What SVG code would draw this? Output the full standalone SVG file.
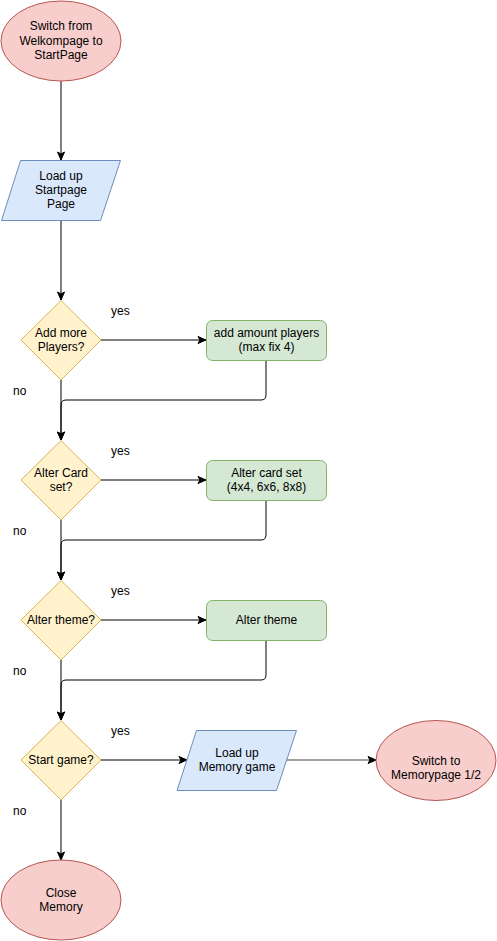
<svg xmlns="http://www.w3.org/2000/svg" width="497" height="941" viewBox="0 0 497 941">
  <style>
    text { font-family: "Liberation Sans", Arial, sans-serif; font-size: 12px; fill: #000; }
    .c { text-anchor: middle; }
    .term { fill: #f8cecc; stroke: #b85450; stroke-width: 1; }
    .io { fill: #dae8fc; stroke: #6c8ebf; stroke-width: 1; }
    .dec { fill: #fff2cc; stroke: #d6b656; stroke-width: 1; }
    .proc { fill: #d5e8d4; stroke: #82b366; stroke-width: 1; }
    .edge { fill: none; stroke: #000; stroke-width: 1; }
    .edge-grey { fill: none; stroke: #808080; stroke-width: 1.3; }
  </style>
  <defs>
    <marker id="arrow" markerUnits="userSpaceOnUse" markerWidth="10" markerHeight="10" viewBox="0 0 10 10" refX="9" refY="5" orient="auto">
      <path d="M1,1.5 L9,5 L1,8.5 L3,5 Z" fill="#000" stroke="#000" stroke-width="1"/>
    </marker>
  </defs>

  <!-- connectors -->
  <g id="connectors">
    <path class="edge" d="M61,81 V160" marker-end="url(#arrow)"/>
    <path class="edge" d="M61,220 V300" marker-end="url(#arrow)"/>

    <path class="edge" d="M101,340 H206" marker-end="url(#arrow)"/>
    <path class="edge" d="M61,380 V440" marker-end="url(#arrow)"/>
    <path class="edge" d="M266,360 V395 Q266,400 261,400 H66 Q61,400 61,405 V440" marker-end="url(#arrow)"/>

    <path class="edge" d="M101,480 H206" marker-end="url(#arrow)"/>
    <path class="edge" d="M61,520 V580" marker-end="url(#arrow)"/>
    <path class="edge" d="M266,500 V535 Q266,540 261,540 H66 Q61,540 61,545 V580" marker-end="url(#arrow)"/>

    <path class="edge" d="M101,620 H206" marker-end="url(#arrow)"/>
    <path class="edge" d="M61,660 V720" marker-end="url(#arrow)"/>
    <path class="edge" d="M266,640 V675 Q266,680 261,680 H66 Q61,680 61,685 V720" marker-end="url(#arrow)"/>

    <path class="edge" d="M101,760 H187" marker-end="url(#arrow)"/>
    <path class="edge-grey" d="M287,760 H376" marker-end="url(#arrow)"/>
    <path class="edge" d="M61,800 V860" marker-end="url(#arrow)"/>

    <text x="111" y="315">yes</text>
    <text x="13" y="395">no</text>
    <text x="111" y="455">yes</text>
    <text x="13" y="535">no</text>
    <text x="111" y="595">yes</text>
    <text x="13" y="675">no</text>
    <text x="111" y="735">yes</text>
    <text x="13" y="815">no</text>
  </g>

  <g id="start">
    <ellipse class="term" cx="61" cy="41" rx="60" ry="40"/>
    <text class="c" x="61" y="30">Switch from</text>
    <text class="c" x="61" y="45">Welkompage to</text>
    <text class="c" x="61" y="59">StartPage</text>
  </g>

  <g id="load-startpage">
    <polygon class="io" points="20.5,160.5 120.5,160.5 100.5,220.5 1.5,220.5"/>
    <text class="c" x="61" y="180">Load up</text>
    <text class="c" x="61" y="194">Startpage</text>
    <text class="c" x="61" y="208">Page</text>
  </g>

  <g id="add-players">
    <polygon class="dec" points="61,300.5 101,340 61,380 21,340"/>
    <text class="c" x="61" y="337">Add more</text>
    <text class="c" x="61" y="351">Players?</text>
  </g>
  <g id="amount-players">
    <rect class="proc" x="206.5" y="320.5" width="120" height="40" rx="6"/>
    <text class="c" x="266.5" y="337">add amount players</text>
    <text class="c" x="266.5" y="351">(max fix 4)</text>
  </g>

  <g id="alter-card-set-q">
    <polygon class="dec" points="61,440.5 101,480 61,520 21,480"/>
    <text class="c" x="61" y="477">Alter Card</text>
    <text class="c" x="61" y="491">set?</text>
  </g>
  <g id="alter-card-set">
    <rect class="proc" x="206.5" y="460.5" width="120" height="40" rx="6"/>
    <text class="c" x="266.5" y="477">Alter card set</text>
    <text class="c" x="266.5" y="491">(4x4, 6x6, 8x8)</text>
  </g>

  <g id="alter-theme-q">
    <polygon class="dec" points="61,580.5 101,620 61,660 21,620"/>
    <text class="c" x="61" y="624">Alter theme?</text>
  </g>
  <g id="alter-theme">
    <rect class="proc" x="206.5" y="600.5" width="120" height="40" rx="6"/>
    <text class="c" x="266.5" y="624">Alter theme</text>
  </g>

  <g id="start-game-q">
    <polygon class="dec" points="61,720.5 101,760 61,800 21,760"/>
    <text class="c" x="61" y="764">Start game?</text>
  </g>
  <g id="load-memory">
    <polygon class="io" points="196.5,730.5 296.5,730.5 276.5,790.5 177,790.5"/>
    <text class="c" x="237" y="757">Load up</text>
    <text class="c" x="237" y="771">Memory game</text>
  </g>
  <g id="memorypage">
    <ellipse class="term" cx="436" cy="760.5" rx="60" ry="40"/>
    <text class="c" x="436" y="765">Switch to</text>
    <text class="c" x="436" y="779">Memorypage 1/2</text>
  </g>

  <g id="close">
    <ellipse class="term" cx="61" cy="900" rx="60" ry="40"/>
    <text class="c" x="61" y="897">Close</text>
    <text class="c" x="61" y="911">Memory</text>
  </g>
</svg>
